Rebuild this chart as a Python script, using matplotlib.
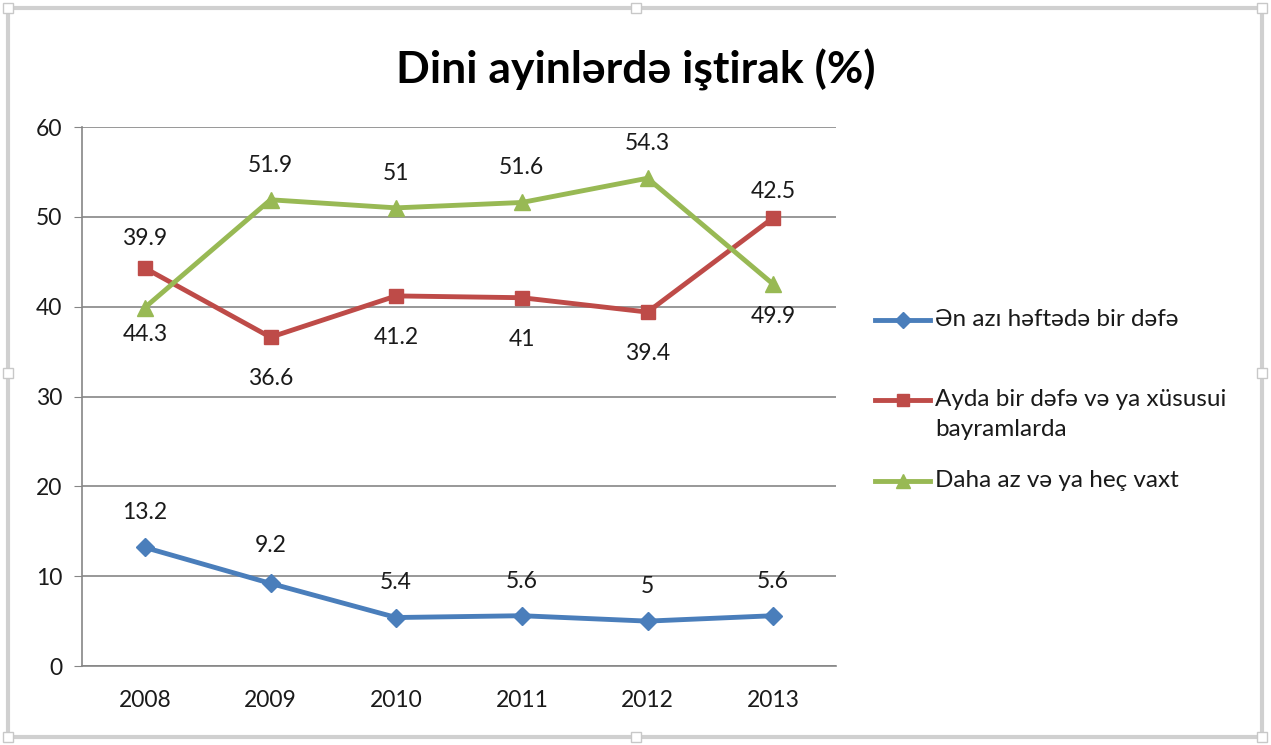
import matplotlib.pyplot as plt
from matplotlib.patches import Rectangle
from matplotlib.lines import Line2D

# ------------------------
# Data
# ------------------------
years = ["2008", "2009", "2010", "2011", "2012", "2013"]
weekly = [13.2, 9.2, 5.4, 5.6, 5.0, 5.6]
monthly = [44.3, 36.6, 41.2, 41.0, 39.4, 49.9]
rarely = [39.9, 51.9, 51.0, 51.6, 54.3, 42.5]

names = ["Ən azı həftədə bir dəfə",
         "Ayda bir dəfə və ya xüsusui\nbayramlarda",
         "Daha az və ya heç vaxt"]
title = "Dini ayinlərdə iştirak (%)"

# label offsets in points (Excel pushed a few labels around)
weekly_off = [25, 27, 25, 25, 25, 25]
monthly_off = [-48, -30, -30, -30, -30, -71]
rarely_off = [50, 25, 25, 25, 25, 67]

plt.rcParams['font.family'] = ['Lato', 'DejaVu Sans']

BLUE = "#4A7EBB"
RED = "#BE4B48"
GREEN = "#98B954"
W, H = 1271, 745

fig = plt.figure(figsize=(W / 100, H / 100), dpi=100)
ax = fig.add_axes([0.0645, 0.106, 0.5933, 0.7235])

styles = [(BLUE, "D", 9), (RED, "s", 10), (GREEN, "^", 11)]
x = list(range(len(years)))
for vals, (c, m, ms) in zip([weekly, monthly, rarely], styles):
    ax.plot(x, vals, color=c, lw=3.5, marker=m, ms=ms)

def fmt(v):
    return f"{v:g}"

for vals, offs in [(weekly, weekly_off), (monthly, monthly_off), (rarely, rarely_off)]:
    for i, v in enumerate(vals):
        ax.annotate(fmt(v), (i, v), xytext=(0, offs[i]), textcoords="offset points",
                    ha="center", va="center", fontsize=16.5, color="#1a1a1a")

ax.set_xlim(-0.5, 5.5)
ax.set_ylim(0, 60)
ax.set_yticks(range(0, 61, 10))
ax.set_xticks(x)
ax.set_xticklabels(years)
ax.grid(axis="y", color="#868686", lw=1.2)
ax.set_axisbelow(True)
for s in ["top", "right"]:
    ax.spines[s].set_visible(False)
for s in ["left", "bottom"]:
    ax.spines[s].set_color("#868686")
    ax.spines[s].set_linewidth(1.2)
ax.tick_params(axis="y", length=6, color="#868686", labelsize=16.5, pad=8, labelcolor="#1a1a1a")
ax.tick_params(axis="x", length=0, labelsize=16.5, pad=17, labelcolor="#1a1a1a")

fig.text(0.5, 0.906, title, ha="center", va="center", fontsize=32, fontweight="bold")

# legend, laid out by hand like Excel does (marker on first text line)
leg_y = [320, 400, 481]
for name, (c, m, ms), yp in zip(names, styles, leg_y):
    yf = 1 - yp / H
    fig.add_artist(Line2D([875 / W, 903 / W, 930 / W], [yf, yf, yf], transform=fig.transFigure,
                          color=c, lw=3.5, marker=m, ms=ms * 0.9, markevery=[1]))
    fig.text(935 / W, yf + 11 / H, name, ha="left", va="top", fontsize=17.5,
             color="#1a1a1a", linespacing=1.55)

# Excel selection frame
fig.add_artist(Rectangle((8 / W, 8 / H), 1254 / W, 729 / H, transform=fig.transFigure,
                         fill=False, ec="#d0d0d0", lw=3))
for hx in [8, 636, 1262]:
    for hy in [8, 372, 737]:
        if hx == 636 and hy == 372:
            continue
        fig.add_artist(Rectangle(((hx - 5) / W, (hy - 5) / H), 10 / W, 10 / H,
                                 transform=fig.transFigure, fc="white", ec="#c8c8c8", lw=1))

fig.savefig("out.png", dpi=100)
